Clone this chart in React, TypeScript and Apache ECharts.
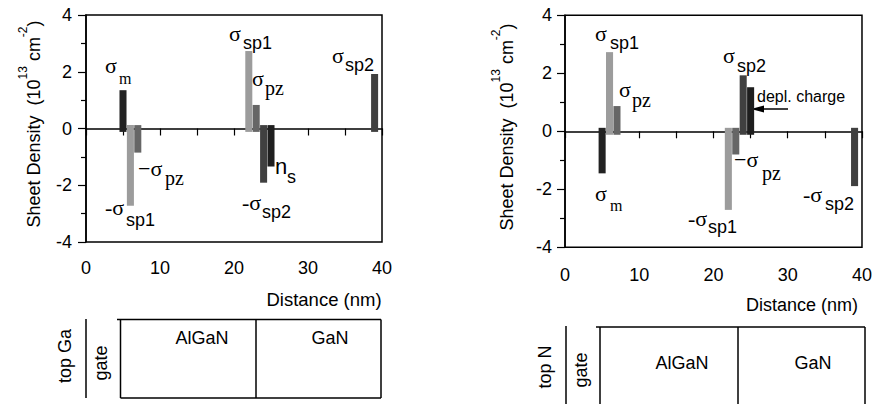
import React, { useEffect, useRef } from "react";
import * as echarts from "echarts";

// ---- data (positions in nm, sheet densities in 1e13 cm^-2) ----
const positionsGa = [5, 6, 7, 22, 23, 24, 25, 39];
const valuesGa = [1.35, -2.72, -0.85, 2.73, 0.83, -1.91, -1.34, 1.92];
const kindsGa = ["m", "sp1", "pz", "sp1", "pz", "sp2", "ns", "sp2"];

const positionsN = [5, 6, 7, 22, 23, 24, 25, 39];
const valuesN = [-1.45, 2.73, 0.87, -2.71, -0.8, 1.93, 1.52, -1.89];
const kindsN = ["m", "sp1", "pz", "sp1", "pz", "sp2", "depl", "sp2"];

const yTicks = [-4, -2, 0, 2, 4];
const xTickLabels = [0, 10, 20, 30, 40];

const kindColor: Record<string, string> = {
  m: "#222222",
  ns: "#1f1f1f",
  depl: "#1e1e1e",
  sp1: "#9c9c9c",
  pz: "#666666",
  sp2: "#404040",
};

const SANS = "'Liberation Sans', Arial, sans-serif";
const SERIF = "'Liberation Serif', 'Times New Roman', serif";

type Lbl = [string, number, number, string];
const fonts: Record<string, { size: number; family: string }> = {
  sig: { size: 22, family: SERIF },
  subm: { size: 16, family: SERIF },
  subpz: { size: 20, family: SERIF },
  subs: { size: 18, family: SANS },
  nsans: { size: 22, family: SANS },
};

const labelsGa: Lbl[] = [
  ["σ", 105, 65, "sig"], ["m", 119, 78, "subm"],
  ["-σ", 105, 207, "sig"], ["sp1", 126, 220, "subs"],
  ["−σ", 138, 168, "sig"], ["pz", 165, 178, "subpz"],
  ["σ", 229, 33, "sig"], ["sp1", 243, 43, "subs"],
  ["σ", 252, 78, "sig"], ["pz", 265, 88, "subpz"],
  ["n", 275, 166, "nsans"], ["s", 287, 177, "subs"],
  ["-σ", 242, 202, "sig"], ["sp2", 262, 212, "subs"],
  ["σ", 332, 55, "sig"], ["sp2", 345, 65, "subs"],
];
const labelsN: Lbl[] = [
  ["σ", 595, 33, "sig"], ["sp1", 610, 43, "subs"],
  ["σ", 619, 89, "sig"], ["pz", 632, 100, "subpz"],
  ["σ", 595, 193, "sig"], ["m", 610, 205, "subm"],
  ["σ", 723, 55, "sig"], ["sp2", 737, 66, "subs"],
  ["−σ", 734, 159, "sig"], ["pz", 762, 173, "subpz"],
  ["-σ", 688, 218, "sig"], ["sp1", 708, 227, "subs"],
  ["-σ", 803, 194, "sig"], ["sp2", 825, 204, "subs"],
];

const BAR_HALF = 0.475;
const OVERSHOOT = 0.12;

function makeData(pos: number[], vals: number[], kinds: string[]) {
  return pos.map((p, i) => ({
    value: [p, vals[i]],
    itemStyle: { color: kindColor[kinds[i]] },
  }));
}

function renderBar(params: any, api: any) {
  const x = api.value(0);
  const v = api.value(1);
  const base = v > 0 ? -OVERSHOOT : OVERSHOOT;
  const p1 = api.coord([x - BAR_HALF, v]);
  const p2 = api.coord([x + BAR_HALF, base]);
  return {
    type: "rect",
    shape: {
      x: p1[0],
      y: Math.min(p1[1], p2[1]),
      width: p2[0] - p1[0],
      height: Math.abs(p2[1] - p1[1]),
    },
    style: { fill: api.visual("color") },
  };
}

function txt(text: string, x: number, y: number, key: string) {
  const f = fonts[key];
  return {
    type: "text",
    x,
    y,
    style: {
      text,
      fill: "#000",
      fontSize: f.size,
      fontFamily: f.family,
      textAlign: "left",
      textVerticalAlign: "middle",
      align: "left",
      verticalAlign: "middle",
    },
  };
}

function plainText(text: string, x: number, y: number, size: number, rot = 0, align = "center") {
  return {
    type: "text",
    x,
    y,
    rotation: rot,
    style: {
      text,
      fill: "#000",
      fontSize: size,
      fontFamily: SANS,
      textAlign: align,
      textVerticalAlign: "middle",
      align,
      verticalAlign: "middle",
    },
  };
}

function yTitle(x: number, y: number) {
  return {
    type: "text",
    x,
    y,
    rotation: Math.PI / 2,
    style: {
      text: "{a|Sheet Density  (10}{s|13}{a| cm}{s|-2}{a|)}",
      fill: "#000",
      textAlign: "center",
      textVerticalAlign: "middle",
      align: "center",
      verticalAlign: "middle",
      rich: {
        a: { fontSize: 18, fontFamily: SANS, fill: "#000", lineHeight: 26, verticalAlign: "bottom" },
        s: { fontSize: 12, fontFamily: SANS, fill: "#000", verticalAlign: "top" },
      },
    },
  };
}

function line(x1: number, y1: number, x2: number, y2: number, w = 1.5) {
  return {
    type: "line",
    shape: { x1, y1, x2, y2 },
    style: { stroke: "#000", lineWidth: w },
  };
}

function yAxisOpt(gridIndex: number, margin: number) {
  return {
    type: "value",
    gridIndex,
    min: yTicks[0],
    max: yTicks[yTicks.length - 1],
    interval: 2,
    axisLine: { show: true, lineStyle: { color: "#000", width: 1.5 } },
    axisTick: { show: true, inside: false, length: 8, lineStyle: { color: "#000", width: 1.2 } },
    minorTick: { show: true, splitNumber: 2, length: 5, lineStyle: { color: "#000", width: 1.2 } },
    axisLabel: { show: true, fontSize: 18, fontFamily: SANS, color: "#000", margin },
    splitLine: { show: false },
  };
}

function xAxesOpt(gridIndex: number, margin: number) {
  return [
    {
      type: "value",
      gridIndex,
      min: 0,
      max: 40,
      interval: 5,
      axisLine: { show: true, onZero: true, lineStyle: { color: "#000", width: 1.5 } },
      axisTick: { show: true, inside: false, length: 7, lineStyle: { color: "#000", width: 1.2 } },
      axisLabel: { show: false },
      splitLine: { show: false },
    },
    {
      type: "value",
      gridIndex,
      min: xTickLabels[0],
      max: xTickLabels[xTickLabels.length - 1],
      interval: 10,
      position: "bottom",
      axisLine: { show: false, onZero: false },
      axisTick: { show: false },
      axisLabel: { show: true, fontSize: 18, fontFamily: SANS, color: "#000", margin },
      splitLine: { show: false },
    },
  ];
}

export default function App() {
  const ref = useRef<HTMLDivElement>(null);
  useEffect(() => {
    if (!ref.current) return;
    const chart = echarts.init(ref.current, undefined, { renderer: "svg" });

    const graphics: any[] = [
      yTitle(30, 124),
      yTitle(503, 127),
      plainText("Distance (nm)", 324, 299, 18.5),
      plainText("Distance (nm)", 802, 305, 18),
      // left layer diagram (Ga-face)
      line(86, 319, 86, 398),
      line(117, 319.5, 381, 319.5),
      line(120.5, 319.5, 120.5, 398),
      line(381, 319.5, 381, 398),
      line(256, 319.5, 256, 398),
      line(120.5, 398, 381, 398),
      plainText("top Ga", 65, 356, 18, Math.PI / 2),
      plainText("gate", 101, 363, 18, Math.PI / 2),
      plainText("AlGaN", 202, 338, 18),
      plainText("GaN", 330, 338, 18),
      // right layer diagram (N-face)
      line(566, 326, 566, 404),
      line(596, 327, 865, 327),
      line(600, 327, 600, 404),
      line(865, 327, 865, 404),
      line(738, 327, 738, 404),
      plainText("top N", 545, 367, 18, Math.PI / 2),
      plainText("gate", 581, 370, 18, Math.PI / 2),
      plainText("AlGaN", 682, 363, 18),
      plainText("GaN", 813, 363, 18),
      // depletion charge annotation
      plainText("depl. charge", 757, 96, 16, 0, "left"),
      line(760, 109, 788, 109, 1.5),
      {
        type: "polygon",
        shape: { points: [[751, 109], [764, 105.5], [764, 112.5]] },
        style: { fill: "#000" },
      },
      ...labelsGa.map((l) => txt(l[0], l[1], l[2], l[3])),
      ...labelsN.map((l) => txt(l[0], l[1], l[2], l[3])),
    ];

    chart.setOption({
      animation: false,
      backgroundColor: "#fff",
      grid: [
        { left: 86, top: 15, width: 296, height: 227, show: true, borderColor: "#000", borderWidth: 1.5, backgroundColor: "transparent" },
        { left: 565, top: 15.3, width: 299, height: 232, show: true, borderColor: "#000", borderWidth: 1.5, backgroundColor: "transparent" },
      ],
      xAxis: [...xAxesOpt(0, 17), ...xAxesOpt(1, 19)],
      yAxis: [yAxisOpt(0, 14), yAxisOpt(1, 13)],
      series: [
        {
          type: "custom",
          xAxisIndex: 0,
          yAxisIndex: 0,
          renderItem: renderBar,
          data: makeData(positionsGa, valuesGa, kindsGa),
          clip: false,
        },
        {
          type: "custom",
          xAxisIndex: 2,
          yAxisIndex: 1,
          renderItem: renderBar,
          data: makeData(positionsN, valuesN, kindsN),
          clip: false,
        },
      ],
      graphic: graphics,
    });
    return () => chart.dispose();
  }, []);
  return <div ref={ref} style={{ position: "absolute", left: 0, top: 0, width: 875, height: 404 }} />;
}
